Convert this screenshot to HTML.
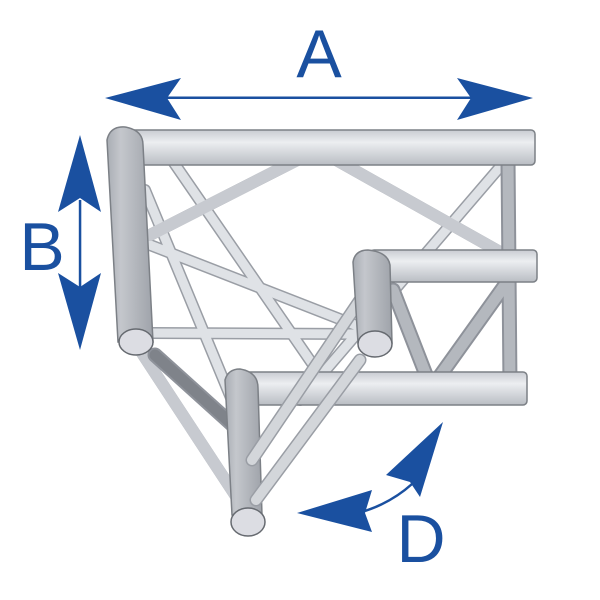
<!DOCTYPE html>
<html><head><style>html,body{margin:0;padding:0;background:#fff;width:600px;height:600px;overflow:hidden}</style></head>
<body>
<svg width="600" height="600" viewBox="0 0 600 600" xmlns="http://www.w3.org/2000/svg">
<defs>
<linearGradient id="gh" x1="0" y1="0" x2="0" y2="1">
<stop offset="0" stop-color="#c9ccd2"/><stop offset="0.35" stop-color="#eceef1"/><stop offset="1" stop-color="#b9bdc3"/></linearGradient>
<linearGradient id="gv" x1="0" y1="0" x2="1" y2="0">
<stop offset="0" stop-color="#a9adb4"/><stop offset="0.3" stop-color="#c4c7cc"/><stop offset="1" stop-color="#9fa3aa"/></linearGradient>
</defs>
<g stroke-linecap="round">
<g stroke="#9a9ea5" stroke-width="12">
<line x1="172" y1="160" x2="318" y2="372"/>
<line x1="145" y1="190" x2="236" y2="410"/>
<line x1="500" y1="167" x2="300" y2="400"/>
<line x1="150" y1="333" x2="355" y2="334"/>
<line x1="150" y1="245" x2="355" y2="325"/>
<line x1="150" y1="235" x2="313" y2="152"/>
<line x1="322" y1="152" x2="500" y2="252"/>
<line x1="140" y1="350" x2="245" y2="510"/>
</g>
<g stroke="#dfe2e6" stroke-width="9">
<line x1="172" y1="160" x2="318" y2="372"/>
<line x1="145" y1="190" x2="236" y2="410"/>
<line x1="500" y1="167" x2="300" y2="400"/>
<line x1="150" y1="333" x2="355" y2="334"/>
<line x1="150" y1="245" x2="355" y2="325"/>
</g>
<g stroke="#c7cad0" stroke-width="12">
<line x1="150" y1="235" x2="313" y2="152"/>
<line x1="322" y1="152" x2="500" y2="252"/>
<line x1="140" y1="350" x2="245" y2="510"/>
</g>
<g stroke="#8e929a" stroke-width="15">
<line x1="393" y1="290" x2="428" y2="380"/>
<line x1="437" y1="380" x2="505" y2="285"/>
<line x1="508" y1="160" x2="510" y2="385"/>
<line x1="155" y1="355" x2="236" y2="428"/>
</g>
<g stroke="#b4b8be" stroke-width="11">
<line x1="393" y1="290" x2="428" y2="380"/>
<line x1="437" y1="380" x2="505" y2="285"/>
<line x1="508" y1="160" x2="510" y2="385"/>
</g>
<line x1="155" y1="355" x2="236" y2="428" stroke="#7f838a" stroke-width="11"/>
</g>
<g stroke="#7c8086" stroke-width="1.5">
<rect x="125" y="130" width="410" height="35" rx="4" fill="url(#gh)"/>
<rect x="370" y="250" width="167" height="32" rx="4" fill="url(#gh)"/>
<rect x="240" y="372" width="287" height="33" rx="4" fill="url(#gh)"/>
<path d="M107,140 Q110,126 125,127 Q143,130 143,145 L153,342 L118,342 Z" fill="url(#gv)"/>
<path d="M225,380 Q228,369 240,369 Q258,372 258,388 L262,515 L232,515 Z" fill="url(#gv)"/>
</g>
<g stroke-linecap="round">
<line x1="360" y1="300" x2="252" y2="460" stroke="#9a9ea5" stroke-width="13"/>
<line x1="360" y1="300" x2="252" y2="460" stroke="#d3d6da" stroke-width="10"/>
</g>
<g stroke="#7c8086" stroke-width="1.5">
<path d="M353,262 Q355,250 368,250 Q388,252 390,265 L392,343 L358,343 Z" fill="url(#gv)"/>
<ellipse cx="136" cy="342" rx="17" ry="13" fill="#dcdde3" stroke="#666a70"/>
<ellipse cx="375" cy="344" rx="17" ry="13" fill="#dcdde3" stroke="#666a70"/>
<ellipse cx="248" cy="522" rx="17" ry="14" fill="#dcdde3" stroke="#666a70"/>
</g>
<g stroke-linecap="round">
<line x1="360" y1="360" x2="256" y2="500" stroke="#9a9ea5" stroke-width="13"/>
<line x1="360" y1="360" x2="256" y2="500" stroke="#d3d6da" stroke-width="10"/>
</g>
<g fill="#1a50a0" stroke="none">
<rect x="160" y="96.5" width="315" height="2.5"/>
<polygon points="105,98 181,78 167,98 181,120"/>
<polygon points="533,98 457,78 471,98 457,120"/>
<rect x="78.8" y="200" width="2.5" height="90"/>
<polygon points="80,135 58,212 80,198 101,212"/>
<polygon points="80,350 58,273 80,287 101,273"/>
<polygon points="297,513 372,490 365,513 372,532"/>
<polygon points="443,422 386,475 410,482 420,497"/>
</g>
<path d="M365,511 Q392,502 412,484" stroke="#1a50a0" stroke-width="2.5" fill="none"/>
<g fill="#1a50a0" font-family="Liberation Sans, sans-serif">
<text x="319" y="77" font-size="68" text-anchor="middle">A</text>
<text x="42" y="270" font-size="68" text-anchor="middle">B</text>
<text x="421" y="562" font-size="68" text-anchor="middle">D</text>
</g>
</svg>
</body></html>
